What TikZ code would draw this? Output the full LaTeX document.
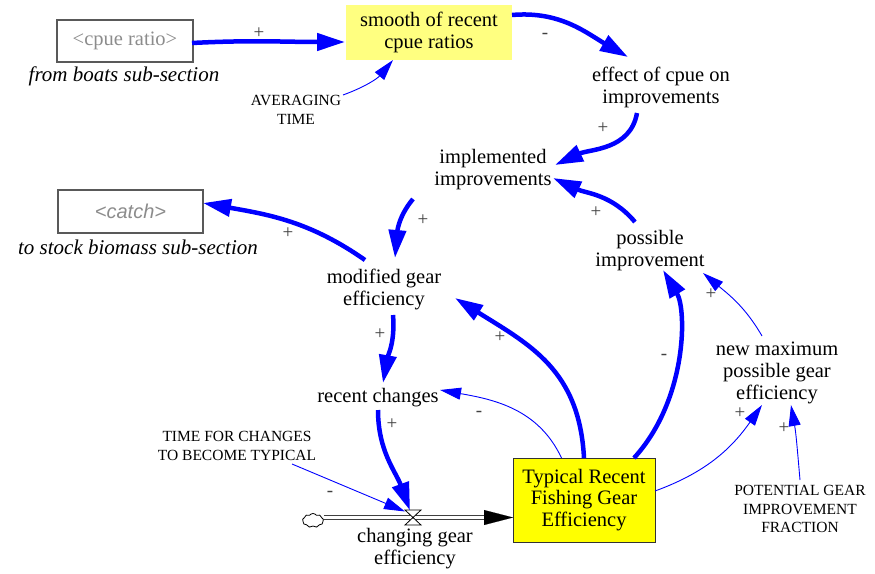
\documentclass[tikz,border=0pt]{standalone}
\usepackage{fontspec}
\setmainfont{Liberation Serif}
\newfontfamily\arialfont{Liberation Sans}
\usetikzlibrary{arrows.meta,calc,shapes.symbols}
\definecolor{cldblue}{RGB}{0,0,255}
\definecolor{auxyellow}{RGB}{255,255,128}
\definecolor{stockyellow}{RGB}{255,255,0}
\begin{document}
\begin{tikzpicture}[x=1pt,y=-1pt,
  lbl/.style={font=\fontsize{20.5}{22}\selectfont, align=center, inner sep=1pt},
  capl/.style={font=\fontsize{15.5}{18.5}\selectfont, align=center, inner sep=1pt},
  itl/.style={font=\fontsize{21}{22}\selectfont\itshape, inner sep=1pt},
  pol/.style={font=\fontsize{19}{19}\selectfont, text=black!75, inner sep=0pt},
  shadowbox/.style={draw=black!65, line width=1.2pt, inner sep=0pt},
  thicklink/.style={draw=cldblue, line width=4.5pt, -{Triangle[length=28pt,width=17pt]}},
  thinlink/.style={draw=cldblue, line width=0.9pt, -{Triangle[length=21pt,width=12pt]}},
  pipe/.style={draw=black!75, line width=1.1pt, double=white, double distance=2.6pt}]
\useasboundingbox (0,0) rectangle (875,573);

% nodes
\node[shadowbox, minimum width=136pt, minimum height=42pt, text=black!45,
      font=\fontsize{20.5}{22}\selectfont] (cpue) at (125,41) {<cpue ratio>};
\node[itl] (fromboats) at (124,76) {from boats sub-section};
\node[fill=auxyellow, minimum width=166pt, minimum height=55pt, lbl] (smooth) at (429,32.5) {smooth of recent\\cpue ratios};
\node[capl] (avg) at (296,110) {AVERAGING\\TIME};
\node[lbl] (effect) at (661,87) {effect of cpue on\\improvements};
\node[lbl] (impl) at (493,170) {implemented\\improvements};
\node[shadowbox, minimum width=145pt, minimum height=43pt, text=black!45,
      font=\fontsize{20}{22}\selectfont\arialfont\itshape] (catch) at (130.5,211.5) {<catch>};
\node[itl] (tostock) at (138,247) {to stock biomass sub-section};
\node[lbl] (modif) at (384,289) {modified gear\\efficiency};
\node[lbl] (poss) at (650,251) {possible\\improvement};
\node[lbl] (recent) at (378,398) {recent changes};
\node[lbl] (newmax) at (777,373) {new maximum\\possible gear\\efficiency};
\node[capl] (pgif) at (800,509) {POTENTIAL GEAR\\IMPROVEMENT\\FRACTION};
\node[capl] (timeft) at (237,446) {TIME FOR CHANGES\\TO BECOME TYPICAL};
\node[draw=black!80, line width=1pt, fill=stockyellow, minimum width=142pt, minimum height=84pt,
      font=\fontsize{20.5}{21.5}\selectfont, align=center, inner sep=0pt] (stock) at (584,500)
      {Typical Recent\\Fishing Gear\\Efficiency};
\node[lbl] (chg) at (415,549) {changing gear\\efficiency};
\node[cloud, draw=black, line width=0.8pt, cloud puffs=9, cloud puff arc=110, aspect=1.5,
      inner sep=0pt, minimum width=21pt, minimum height=14pt] (cloud) at (313,520.5) {};
\coordinate (valve) at (413,517.5);

% flow pipe
\draw[pipe] (cloud.east |- valve) -- ($(stock)+(-99,17.5)$);
\draw[line width=0.1pt, fill=black, -{Triangle[length=29pt,width=15pt]}] ($(stock)+(-100,17.5)$) -- ($(stock)+(-71,17.5)$);
\draw[fill=white, line width=0.8pt] ($(valve)+(-8,-7.5)$) -- ($(valve)+(8,-7.5)$) -- ($(valve)+(-8,7.5)$) -- ($(valve)+(8,7.5)$) -- cycle;

% links
\draw[thicklink] ($(cpue)+(67,2)$) to[out=3,in=180] ($(smooth)+(-84,9.5)$);
\draw[thinlink] ($(avg)+(47,-15)$) to[out=20,in=-130] ($(smooth)+(-36,27.5)$);
\draw[thicklink] ($(smooth)+(83,-17.5)$) to[out=5,in=150] ($(effect)+(-33,-30)$);
\draw[thicklink] ($(effect)+(-24,26)$) to[out=-100,in=25] ($(impl)+(62,-5)$);
\draw[thicklink] ($(impl)+(-80,29)$) to[out=-130,in=85] ($(modif)+(11,-31)$);
\draw[thicklink] ($(modif)+(-19,-29)$) to[out=145,in=-10] ($(catch)+(72.5,-8.5)$);
\draw[thicklink] ($(poss)+(-15,-29)$) to[out=130,in=-25] ($(impl)+(60,8)$);
\draw[thicklink] ($(modif)+(9,26)$) to[out=-85,in=80] ($(recent)+(5,-15)$);
\draw[thicklink] ($(recent)+(0,12)$) to[out=-90,in=110] ($(valve)+(-3,-7)$);
\draw[thinlink] ($(timeft)+(55,18)$) -- ($(valve)+(-8,-6)$);
\draw[thicklink] ($(stock)+(0,-42)$) to[out=93,in=-32,looseness=1.1] ($(modif)+(71,9)$);
\draw[thinlink] ($(stock)+(-22.5,-42)$) to[out=115,in=-10] ($(recent)+(62,-8)$);
\draw[thicklink] ($(stock)+(50,-42)$) .. controls ($(stock)+(103,-100)$) and ($(poss)+(37,59)$) .. ($(poss)+(13,19)$);
\draw[thinlink] ($(newmax)+(-15,-37)$) to[out=120,in=-40] ($(poss)+(53,22)$);
\draw[thinlink] ($(stock)+(71,-9)$) to[out=20,in=-125] ($(newmax)+(-15,32)$);
\draw[thinlink] ($(pgif)+(0,-29)$) to[out=95,in=-80] ($(newmax)+(14,32)$);

% polarities
\node[pol] (p1) at (259,33) {+};
\node[pol] (p2) at (545,36) {-};
\node[pol] (p3) at (603,128) {+};
\node[pol] (p4) at (423,220) {+};
\node[pol] (p5) at (288,233) {+};
\node[pol] (p6) at (596,212) {+};
\node[pol] (p7) at (380,334) {+};
\node[pol] (p8) at (392,424) {+};
\node[pol] (p9) at (330,494) {-};
\node[pol] (p10) at (500,337) {+};
\node[pol] (p11) at (479,414) {-};
\node[pol] (p12) at (664,357) {-};
\node[pol] (p13) at (711,294) {+};
\node[pol] (p14) at (740,413) {+};
\node[pol] (p15) at (784,428) {+};
\end{tikzpicture}
\end{document}
